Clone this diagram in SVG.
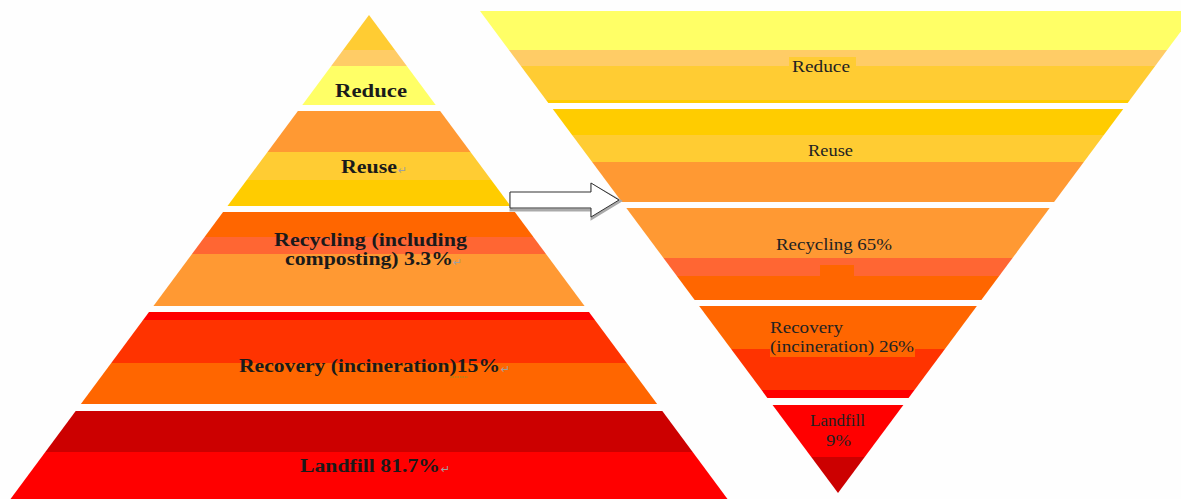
<svg xmlns="http://www.w3.org/2000/svg" width="1181" height="499" viewBox="0 0 1181 499">
<defs>
<clipPath id="clipL"><polygon points="369,15 727.5,499 10.5,499"/></clipPath>
<clipPath id="clipR"><polygon points="480,11 1196,11 838,493"/></clipPath>
<style>
.lt{font-family:"Liberation Serif","Times New Roman",serif;font-weight:bold;font-size:18.5px;fill:#1a1a1a;}
.rt{font-family:"Liberation Serif","Times New Roman",serif;font-size:16.5px;fill:#222;}
.pm{font-family:"DejaVu Sans",sans-serif;font-size:11px;fill:#a0a0a0;}
</style>
</defs>
<rect width="1181" height="499" fill="#fefefe"/>
<g id="left-pyramid" clip-path="url(#clipL)">
<g id="l-reduce">
<rect x="0" y="15" width="760" height="35" fill="#FFCC33"/>
<rect x="0" y="50" width="760" height="16" fill="#FFCC66"/>
<rect x="0" y="66" width="760" height="39" fill="#FFFF66"/>
<text class="lt" x="335" y="97" textLength="72" lengthAdjust="spacingAndGlyphs">Reduce</text>
</g>
<g id="l-reuse">
<rect x="0" y="111" width="760" height="41" fill="#FF9933"/>
<rect x="0" y="152" width="760" height="28" fill="#FFCC33"/>
<rect x="0" y="180" width="760" height="26" fill="#FFCC00"/>
<text class="lt" x="341" y="173" textLength="56" lengthAdjust="spacingAndGlyphs">Reuse</text>
<text class="pm" x="398" y="174">↵</text>
</g>
<g id="l-recycling">
<rect x="0" y="212" width="760" height="25" fill="#FF6600"/>
<rect x="0" y="237" width="760" height="17" fill="#FF6633"/>
<rect x="0" y="254" width="760" height="52" fill="#FF9933"/>
<text class="lt" x="274" y="246" textLength="193" lengthAdjust="spacingAndGlyphs">Recycling (including</text>
<text class="lt" x="285" y="265" textLength="168" lengthAdjust="spacingAndGlyphs">composting) 3.3%</text>
<text class="pm" x="453" y="266">↵</text>
</g>
<g id="l-recovery">
<rect x="0" y="312" width="760" height="8" fill="#FF0000"/>
<rect x="0" y="320" width="760" height="43" fill="#FF3300"/>
<rect x="0" y="363" width="760" height="41" fill="#FF6600"/>
<text class="lt" x="239" y="372" textLength="261" lengthAdjust="spacingAndGlyphs">Recovery (incineration)15%</text>
<line x1="450" y1="377" x2="468" y2="377" stroke="#7a9a2a" stroke-width="1.2" stroke-dasharray="1.5,1"/>
<text class="pm" x="501" y="373">↵</text>
</g>
<g id="l-landfill">
<rect x="0" y="411" width="760" height="41" fill="#CC0000"/>
<rect x="0" y="452" width="760" height="47" fill="#FF0000"/>
<text class="lt" x="300" y="472" textLength="140" lengthAdjust="spacingAndGlyphs">Landfill 81.7%</text>
<text class="pm" x="441" y="473">↵</text>
</g>
</g>
<g id="right-pyramid" clip-path="url(#clipR)">
<g id="r-reduce">
<rect x="470" y="11" width="740" height="39" fill="#FFFF66"/>
<rect x="470" y="50" width="740" height="16" fill="#FFCC66"/>
<rect x="470" y="66" width="740" height="34" fill="#FFCC33"/>
<rect x="470" y="100" width="740" height="3" fill="#FFCC00"/>
<rect x="789" y="57" width="67" height="9" fill="#FFCC33"/>
<text class="rt" x="792" y="72" textLength="58" lengthAdjust="spacingAndGlyphs">Reduce</text>
</g>
<g id="r-reuse">
<rect x="470" y="109" width="740" height="26" fill="#FFCC00"/>
<rect x="470" y="135" width="740" height="27" fill="#FFCC33"/>
<rect x="470" y="162" width="740" height="40" fill="#FF9933"/>
<text class="rt" x="808" y="156" textLength="45" lengthAdjust="spacingAndGlyphs">Reuse</text>
</g>
<g id="r-recycling">
<rect x="470" y="208" width="740" height="50" fill="#FF9933"/>
<rect x="470" y="258" width="740" height="18" fill="#FF6633"/>
<rect x="470" y="276" width="740" height="24" fill="#FF6600"/>
<rect x="820" y="265" width="34" height="11" fill="#FF6600"/>
<text class="rt" x="776" y="250" textLength="116" lengthAdjust="spacingAndGlyphs">Recycling 65%</text>
</g>
<g id="r-recovery">
<rect x="470" y="306" width="740" height="43" fill="#FF6600"/>
<rect x="470" y="349" width="740" height="41" fill="#FF3300"/>
<rect x="470" y="390" width="740" height="8" fill="#FF0000"/>
<rect x="770" y="348" width="145" height="9" fill="#FF6600"/>
<text class="rt" x="770" y="333" textLength="73" lengthAdjust="spacingAndGlyphs">Recovery</text>
<text class="rt" x="770" y="352" textLength="144" lengthAdjust="spacingAndGlyphs">(incineration) 26%</text>
</g>
<g id="r-landfill">
<rect x="470" y="405" width="740" height="52" fill="#FF0000"/>
<rect x="470" y="457" width="740" height="40" fill="#CC0000"/>
<text class="rt" x="810" y="426" textLength="55" lengthAdjust="spacingAndGlyphs">Landfill</text>
<text class="rt" x="826" y="446" textLength="25" lengthAdjust="spacingAndGlyphs">9%</text>
</g>
</g>
<g id="connectors">
<polygon points="511,194 592,194 592,185 620,201 592,218 592,210 511,210" fill="none" stroke="#aaa" stroke-width="3"/>
<polygon points="510,192 591,192 591,183 619,200 591,217 591,208 510,208" fill="#fff" stroke="#333" stroke-width="1"/>
</g>
</svg>
